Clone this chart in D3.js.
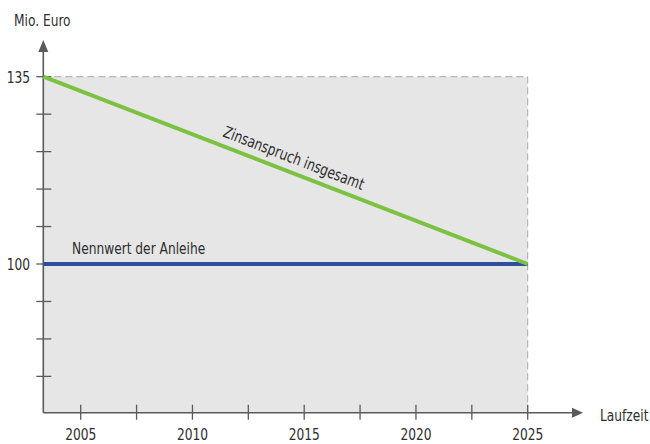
<!DOCTYPE html>
<html>
<head>
<meta charset="utf-8">
<script src="https://cdn.jsdelivr.net/npm/d3@7"></script>
<style>
  body { margin: 0; background: #fff; }
  text { font-family: "DejaVu Sans Condensed", "Liberation Sans Narrow", sans-serif; fill: #2e2e2e; }
</style>
</head>
<body>
<svg id="chart" width="650" height="444"></svg>
<script>
// data
const years = [2003.33, 2025];
const zinsanspruch = [135, 100];
const nennwert = [100, 100];
const yearTicks = [2005, 2007.5, 2010, 2012.5, 2015, 2017.5, 2020, 2022.5, 2025];
const yearLabels = [2005, 2010, 2015, 2020, 2025];
const valueTicks = [135, 128, 121, 114, 107, 100, 93, 86, 79];
const valueLabels = [135, 100];

const svg = d3.select("#chart");

const x = d3.scaleLinear().domain([2005, 2025]).range([80.7, 527.7]);
const y = d3.scaleLinear().domain([100, 135]).range([264, 76.7]);

const x0 = x.invert(43.3), xEnd = x.invert(583);
const y0 = y.invert(412.7), yEnd = y.invert(40);

// condensed text helper
const squeeze = 0.85, fs = 16;
function label(px, py, txt, anchor, rot) {
  return svg.append("text")
    .attr("transform", `translate(${px},${py})` + (rot ? ` rotate(${rot})` : "") + ` scale(${squeeze},1)`)
    .attr("text-anchor", anchor || "start")
    .attr("font-size", fs)
    .text(txt);
}

// gray area
svg.append("rect")
  .attr("x", x(x0)).attr("y", y(135))
  .attr("width", x(2025) - x(x0)).attr("height", y(y0) - y(135))
  .attr("fill", "#e6e6e6");

// dashed frame top/right
svg.append("path")
  .attr("d", `M${x(x0)},${y(135)}H${x(2025)}V${y(y0)}`)
  .attr("fill", "none").attr("stroke", "#a8a8a8").attr("stroke-width", 1)
  .attr("stroke-dasharray", "7,4");

// axes
const axisColor = "#5a5a5a";
svg.append("line")
  .attr("x1", x(x0)).attr("x2", x(xEnd) - 8)
  .attr("y1", y(y0)).attr("y2", y(y0))
  .attr("stroke", axisColor).attr("stroke-width", 1.6);
svg.append("path")
  .attr("d", `M${x(xEnd)},${y(y0)}l-11,-5v10z`)
  .attr("fill", axisColor);
svg.append("line")
  .attr("x1", x(x0)).attr("x2", x(x0))
  .attr("y1", y(y0)).attr("y2", y(yEnd) + 8)
  .attr("stroke", axisColor).attr("stroke-width", 1.6);
svg.append("path")
  .attr("d", `M${x(x0)},${y(yEnd)}l-5,12h10z`)
  .attr("fill", axisColor);

// x ticks
svg.selectAll(".xt").data(yearTicks).enter().append("line")
  .attr("x1", d => x(d)).attr("x2", d => x(d))
  .attr("y1", y(y0) - 8).attr("y2", y(y0) + 7)
  .attr("stroke", axisColor).attr("stroke-width", 1.3);
yearLabels.forEach(d => label(x(d), 439.5, d, "middle"));

// y ticks
svg.selectAll(".yt").data(valueTicks).enter().append("line")
  .attr("x1", x(x0) - 7).attr("x2", x(x0) + 8)
  .attr("y1", d => y(d)).attr("y2", d => y(d))
  .attr("stroke", axisColor).attr("stroke-width", 1.3);
valueLabels.forEach(d => label(30, y(d) + 6, d, "end"));

// axis titles
label(14, 26, "Mio. Euro");
label(600, 421, "Laufzeit");

// lines
const line = d3.line().x(d => x(d[0])).y(d => y(d[1]));
svg.append("path")
  .datum(years.map((d, i) => [d, nennwert[i]]))
  .attr("d", line).attr("fill", "none")
  .attr("stroke", "#2f4f9c").attr("stroke-width", 4);
svg.append("path")
  .datum(years.map((d, i) => [d, zinsanspruch[i]]))
  .attr("d", line).attr("fill", "none")
  .attr("stroke", "#7cc242").attr("stroke-width", 4);

// line labels
label(72, 254, "Nennwert der Anleihe");

const angle = Math.atan2(y(100) - y(135), x(2025) - x(x0)) * 180 / Math.PI;
const lx = 2014.3, ly = 135 + (100 - 135) * (lx - x0) / (2025 - x0);
const a = angle * Math.PI / 180;
label(x(lx) + 9 * Math.sin(a), y(ly) - 9 * Math.cos(a), "Zinsanspruch insgesamt", "middle", angle);
</script>
</body>
</html>
